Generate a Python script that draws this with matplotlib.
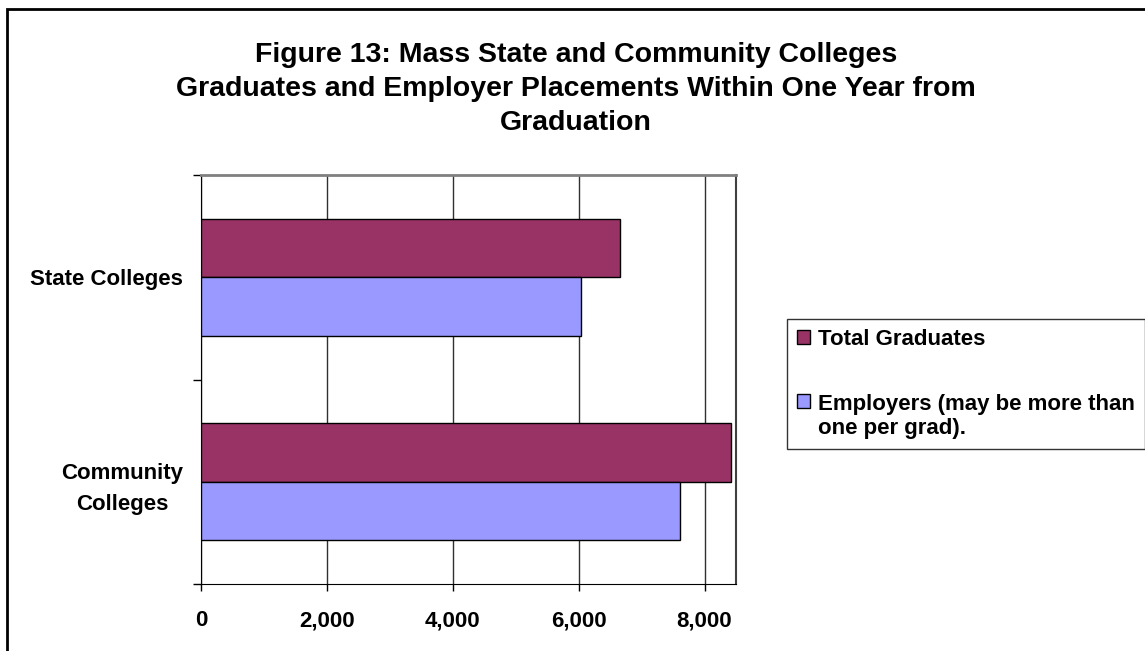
import matplotlib
matplotlib.use('Agg')
import matplotlib.pyplot as plt
import numpy as np
from matplotlib.patches import Rectangle

plt.rcParams['font.family'] = ['Liberation Sans', 'DejaVu Sans']
plt.rcParams['font.weight'] = 'bold'

# Data
categories = ['State Colleges', 'Community\nColleges']
total_grads = [6650, 8420]
employers = [6030, 7610]
series_names = ['Total Graduates', 'Employers (may be more than\none per grad).']
x_ticks = [0, 2000, 4000, 6000, 8000]
x_max = 8500

c_total = '#993366'
c_emp = '#9999FF'

W, H = 1145, 651
fig = plt.figure(figsize=(W/100, H/100), dpi=100)
fig.patch.set_facecolor('white')

ax = fig.add_axes([201/W, 1-584/H, (736-201)/W, (584-175)/H])

# category centres: first category at the top
ypos = np.arange(len(categories))[::-1]
h = 1/3.5   # gap width 150%

b1 = ax.barh(ypos + h/2, total_grads, height=h, color=c_total,
             edgecolor='black', linewidth=1, zorder=3, label=series_names[0])
b2 = ax.barh(ypos - h/2, employers, height=h, color=c_emp,
             edgecolor='black', linewidth=1, zorder=3, label=series_names[1])

ax.set_xlim(0, x_max)
ax.set_ylim(-0.5, len(categories)-0.5)

ax.set_xticks(x_ticks)
ax.set_xticklabels(['{:,}'.format(v) for v in x_ticks])
ax.tick_params(axis='x', direction='out', length=5, width=1, pad=14,
               labelsize=16, color='black')
ax.xaxis.grid(True, color='#303030', linewidth=1, zorder=0)

# labels in the middle of each band, ticks on band boundaries
ax.set_yticks(ypos)
ax.set_yticklabels(categories, multialignment='center', linespacing=1.6)
ax.tick_params(axis='y', which='major', length=0, pad=13, labelsize=16)
ax.set_yticks(np.arange(-0.5, len(categories), 1.0), minor=True)
ax.tick_params(axis='y', which='minor', direction='out', length=6, width=1,
               color='black')

for lbl in ax.get_xticklabels() + ax.get_yticklabels():
    lbl.set_fontweight('bold')

ax.spines['top'].set_color('#808080')
ax.spines['top'].set_linewidth(2)
ax.spines['right'].set_color('#404040')
ax.spines['right'].set_linewidth(1.5)
ax.spines['left'].set_color('black')
ax.spines['bottom'].set_color('black')

fig.text(0.503, 1-89/H,
         'Figure 13: Mass State and Community Colleges\n'
         'Graduates and Employer Placements Within One Year from\n'
         'Graduation',
         ha='center', va='center', fontsize=20.5, fontweight='bold',
         linespacing=1.38)

leg = fig.legend(handles=[b1, b2], loc='upper left',
                 bbox_to_anchor=(787/W, 1-319/H), borderaxespad=0,
                 prop={'size': 16, 'weight': 'bold'}, frameon=True,
                 fancybox=False, edgecolor='black', handlelength=0.6,
                 handleheight=0.6, handletextpad=0.35, labelspacing=2.0,
                 borderpad=0.44)
leg.get_frame().set_linewidth(1)
# put the swatch of the two-line entry next to its first line
entries = leg._legend_handle_box.get_children()[0].get_children()
entries[1].align = 'top'

# outer chart border
fig.patches.append(Rectangle((7/W, -0.1), 1.5, (H-9)/H + 0.1,
                             transform=fig.transFigure, fill=False,
                             edgecolor='black', linewidth=2))

fig.savefig('out.png', dpi=100, facecolor='white')
